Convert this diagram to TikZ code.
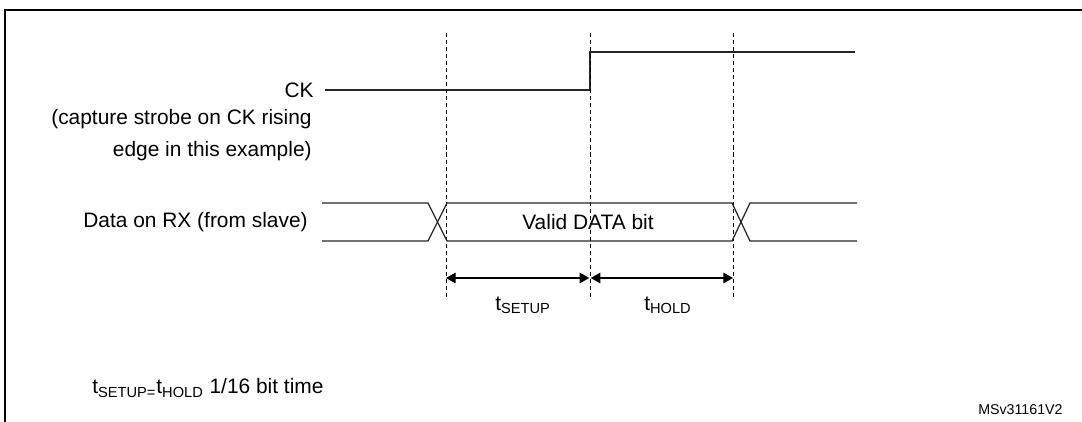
\documentclass[tikz,border=0pt]{standalone}
\usepackage{fontspec}
\setmainfont{Liberation Sans}
\usetikzlibrary{arrows.meta,positioning,calc}

\begin{document}
\begin{tikzpicture}[
  lbl/.style={font=\fontsize{11.9}{14.3}\selectfont, inner sep=0pt},
  sig/.style={line width=0.7pt, black!85},
  guide/.style={line width=0.55pt, dash pattern=on 2.3pt off 1.7pt},
  dim/.style={{Triangle[length=5.5pt,width=6pt]}-{Triangle[length=5.5pt,width=6pt]}, line width=0.7pt},
  frame/.style={line width=1.4pt}
]
\useasboundingbox (0,0) rectangle (21.64,8.42);

\begin{scope}
  \clip (0,0) rectangle (21.64,8.42);
  \draw[frame] (0.1,-1) -- (0.1,8.22) -- (22.5,8.22);
\end{scope}

\node[lbl, anchor=east] (ck) at (6.28,6.62) {CK};
\node[lbl, anchor=east] (cap1) at (6.24,6.04) {(capture strobe on CK rising};
\node[lbl, anchor=east] (cap2) at (6.24,5.40) {edge in this example)};

\coordinate (ck0) at (6.5,6.62);
\coordinate (ckr) at (11.8,6.62);
\coordinate (ckh) at (11.8,7.38);
\coordinate (ck1) at (17.1,7.38);
\draw[sig] (ck0) -- (ckr) -- (ckh) -- (ck1);

\foreach \n/\x in {a/8.92,b/11.8,c/14.66} {
  \coordinate (top\n) at (\x,7.76);
  \coordinate (bot\n) at (\x,2.46);
  \coordinate (dim\n) at (\x,2.86);
  \draw[guide] (top\n) -- (bot\n);
}

\node[lbl, anchor=east] (rx) at (6.16,3.98) {Data on RX (from slave)};
\node[lbl] (valid) at (11.76,3.98) {Valid DATA bit};

\draw[sig] (6.44,4.36) -- (8.56,4.36) -- (8.94,3.60) -- (14.64,3.60) -- (15.0,4.36) -- (17.14,4.36);
\draw[sig] (6.44,3.60) -- (8.56,3.60) -- (8.94,4.36) -- (14.64,4.36) -- (15.0,3.60) -- (17.14,3.60);

\draw[dim, shorten >=0.4pt] (dima) -- (dimb);
\draw[dim, shorten <=0.4pt] (dimb) -- (dimc);

\node[lbl] (tsu) at (10.46,2.32) {t\textsubscript{SETUP}};
\node[lbl] (thd) at (13.36,2.32) {t\textsubscript{HOLD}};

\node[lbl, anchor=west] (note) at (1.84,0.66) {t\textsubscript{SETUP=}t\textsubscript{HOLD} 1/16 bit time};
\node[font=\fontsize{8.1}{10}\selectfont, inner sep=0pt, anchor=east] (ref) at (21.26,0.22) {MSv31161V2};
\end{tikzpicture}
\end{document}
